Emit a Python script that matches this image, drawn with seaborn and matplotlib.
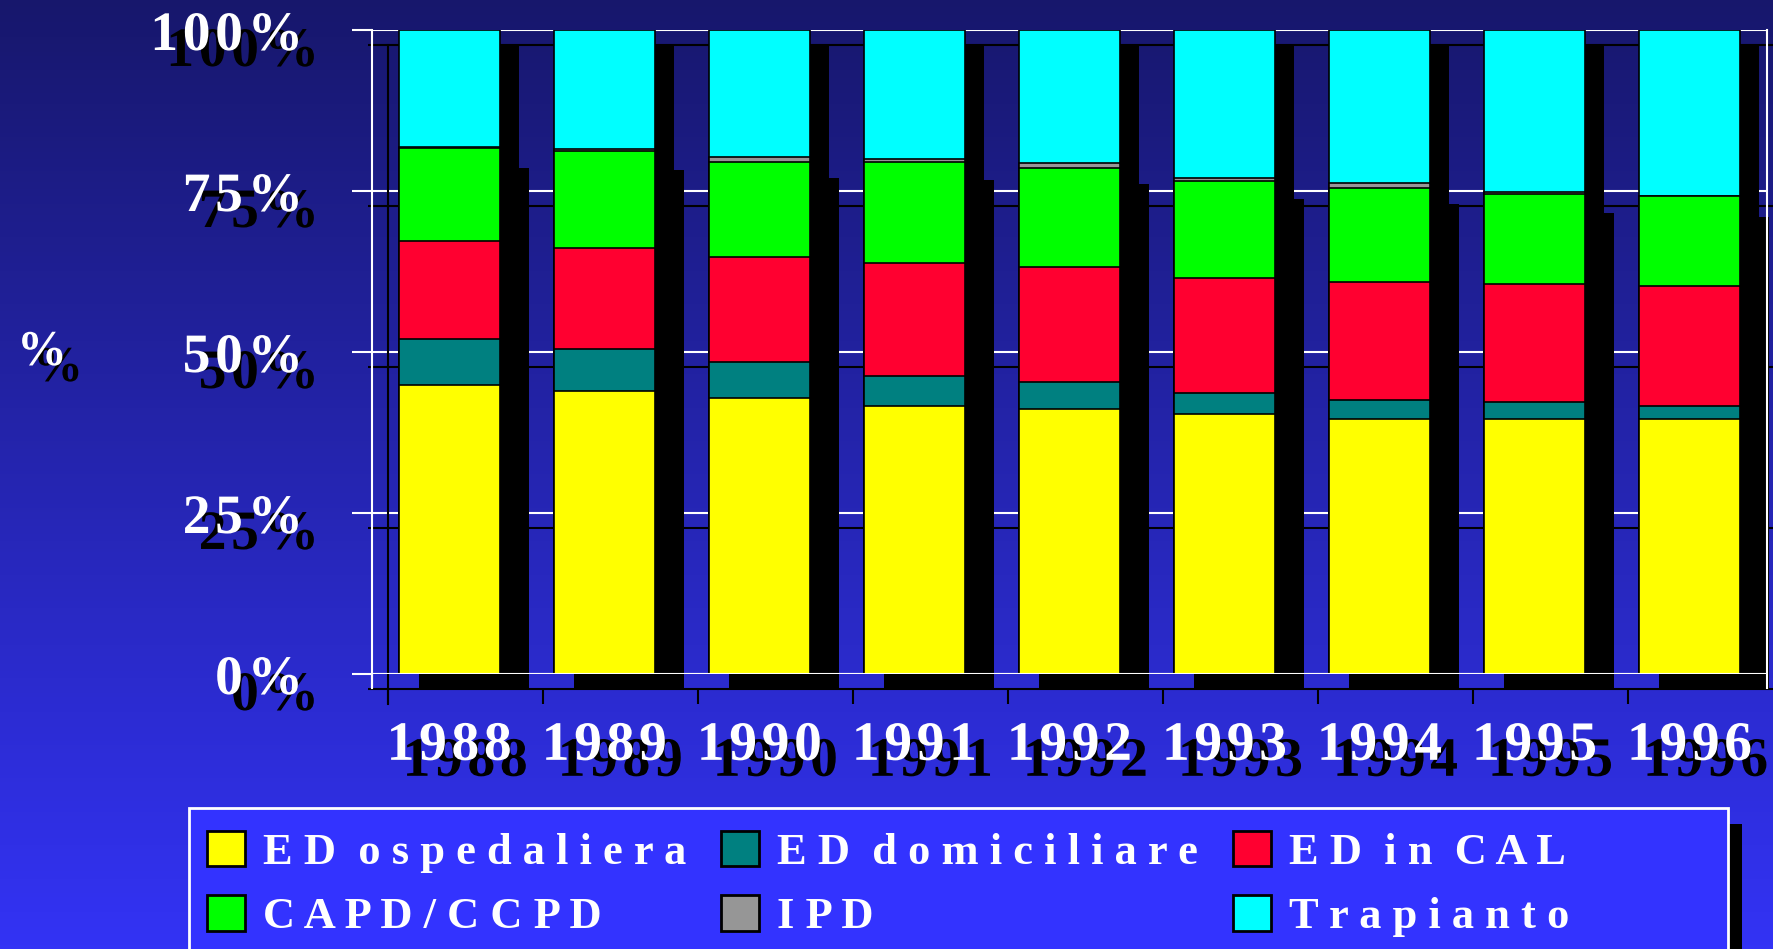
import numpy as np
import matplotlib
matplotlib.use("Agg")
import matplotlib.pyplot as plt
import matplotlib.patheffects as pe
from matplotlib.patches import Rectangle, Patch
import seaborn as sns

# === data (percent of patients per treatment) ===
years = ["1988", "1989", "1990", "1991", "1992", "1993", "1994", "1995", "1996"]
ed_ospedaliera = [44.9, 43.9, 42.8, 41.6, 41.2, 40.4, 39.6, 39.6, 39.6]
ed_domiciliare = [7.1, 6.5, 5.6, 4.7, 4.1, 3.3, 3.0, 2.7, 2.0]
ed_in_cal = [15.2, 15.8, 16.4, 17.5, 17.9, 17.8, 18.3, 18.2, 18.6]
capd_ccpd = [14.4, 15.0, 14.7, 15.7, 15.4, 15.1, 14.6, 14.1, 14.0]
ipd = [0.3, 0.3, 0.8, 0.4, 0.7, 0.4, 0.7, 0.3, 0.1]
trapianto = [18.1, 18.5, 19.7, 20.1, 20.7, 23.0, 23.8, 25.1, 25.7]

series_labels = ["E D  o s p e d a l i e r a", "E D  d o m i c i l i a r e", "E D  i n  C A L",
                 "C A P D / C C P D", "I P D", "T r a p i a n t o"]
colors = ["#ffff00", "#008080", "#ff0030", "#00ff00", "#969696", "#00ffff"]
y_ticks = [0, 25, 50, 75, 100]
y_tick_labels = ["0%", "25%", "50%", "75%", "100%"]

W, H = 1774, 949
SERIF = "Liberation Serif"
HAIR = "\u200a"


def spaced(s):
    # the slide used extra character spacing
    return HAIR.join(s)


stack = np.vstack([ed_ospedaliera, ed_domiciliare, ed_in_cal, capd_ccpd, ipd, trapianto])
cum = np.cumsum(stack, axis=0)
n = len(years)
x = np.arange(n)
bar_w = 0.654

fig = plt.figure(figsize=(W / 100, H / 100), dpi=100)

# gradient background
bg = fig.add_axes([0, 0, 1, 1], zorder=-10)
top_c = np.array([0x17, 0x17, 0x6c]) / 255
bot_c = np.array([0x33, 0x33, 0xf5]) / 255
t = np.linspace(0, 1, 256)[:, None]
grad = (top_c[None, :] * (1 - t) + bot_c[None, :] * t)[:, None, :]
bg.imshow(grad, aspect="auto", extent=[0, 1, 0, 1])
bg.axis("off")

ax = fig.add_axes([371.7 / W, 1 - 674 / H, (1767 - 371.7) / W, (674 - 30) / H])
ax.set_facecolor("none")
PX_X = 9.0 / (1767 - 371.7)
PX_Y = 100.0 / (674 - 30)

# shadow copies of grid lines, axis and ticks
ax.hlines([v - 15 * PX_Y for v in y_ticks], -0.5 - 4 * PX_X, 8.5 + 16 * PX_X,
          color="black", lw=1.5, clip_on=False, zorder=1)
ax.axvline(-0.5 + 16 * PX_X, ymin=-30 / 644, ymax=1 - 15 / 644, color="black", lw=1.5,
           clip_on=False, zorder=1)
ax.vlines(np.arange(-0.5, n, 1) + 16 * PX_X, -30 * PX_Y, -14 * PX_Y, color="black",
          lw=1.5, clip_on=False, zorder=1)

# black shadows of the bars
below_cyan = cum[4]
ax.bar(x + 19 * PX_X, 100 - below_cyan + 6 * PX_Y, bottom=below_cyan - 21 * PX_Y,
       width=bar_w, color="black", zorder=2, clip_on=False)
ax.bar(x + 24.5 * PX_X, below_cyan - 6 * PX_Y, bottom=-15 * PX_Y,
       width=bar_w + 9 * PX_X, color="black", zorder=2, clip_on=False)

# stacked bars: cumulative totals, tallest first
for k in range(len(colors) - 1, -1, -1):
    sns.barplot(x=years, y=cum[k], color=colors[k], saturation=1, width=bar_w,
                edgecolor="black", linewidth=1.2, errorbar=None, ax=ax, zorder=3)

ax.set_xlim(-0.5, n - 0.5)
ax.set_ylim(0, 100)
for s in ax.spines.values():
    s.set_visible(False)
ax.set_axisbelow(True)
ax.yaxis.grid(True, color="white", lw=1.5)
ax.xaxis.grid(False)
ax.axhline(0, color="white", lw=1.5, zorder=4)
ax.axvline(-0.5, ymin=-14 / 644, ymax=1, color="white", lw=1.5, clip_on=False, zorder=4)
ax.axvline(n - 0.5, ymin=-14 / 644, ymax=1, color="white", lw=1.5, clip_on=False, zorder=4)

ax.set_yticks(y_ticks)
ax.set_yticklabels([spaced(s) for s in y_tick_labels])
ax.set_xticks(x)
ax.set_xticklabels([spaced(s) for s in years])
ax.set_xticks(np.arange(-0.5, n, 1), minor=True)
ax.set_xlabel("")
ax.set_ylabel("")
ax.tick_params(axis="y", length=14.4, width=1.5, color="white", pad=35)
ax.tick_params(axis="x", which="major", length=0, pad=33)
ax.tick_params(axis="x", which="minor", length=10, width=1.5, color="white")

shadow = [pe.SimplePatchShadow(offset=(11.5, -11.5), shadow_rgbFace="black", alpha=1.0),
          pe.Normal()]
for lab in ax.get_yticklabels() + ax.get_xticklabels():
    lab.set_fontfamily(SERIF)
    lab.set_fontweight("bold")
    lab.set_fontsize(40)
    lab.set_color("white")
    lab.set_path_effects(shadow)

fig.text(17 / W, 1 - 353 / H, "%", family=SERIF, weight="bold", fontsize=36, color="white",
         ha="left", va="center", path_effects=shadow)

# legend box with its shadow
fig.patches.append(Rectangle((203 / W, -0.1), (1742 - 203) / W, 0.1 + 1 - 824 / H,
                             transform=fig.transFigure, facecolor="black", edgecolor="none",
                             zorder=1))
fig.patches.append(Rectangle((189 / W, -0.1), (1728 - 189) / W, 0.1 + 1 - 808 / H,
                             transform=fig.transFigure, facecolor="#3333ff", edgecolor="white",
                             lw=2, zorder=2))

order = [0, 3, 1, 4, 2, 5]
handles = [Patch(facecolor=colors[i], edgecolor="black", lw=2) for i in order]
labels = [series_labels[i] for i in order]
fig.legend(handles, labels, loc="upper left", bbox_to_anchor=(207 / W, 1 - 831 / H), ncol=3,
           frameon=False, prop={"family": SERIF, "weight": "bold", "size": 32},
           labelcolor="white", handlelength=0.85, handleheight=0.85, handletextpad=0.4,
           columnspacing=0.8, labelspacing=0.5, borderpad=0, borderaxespad=0)

fig.savefig("out.png", dpi=100)
